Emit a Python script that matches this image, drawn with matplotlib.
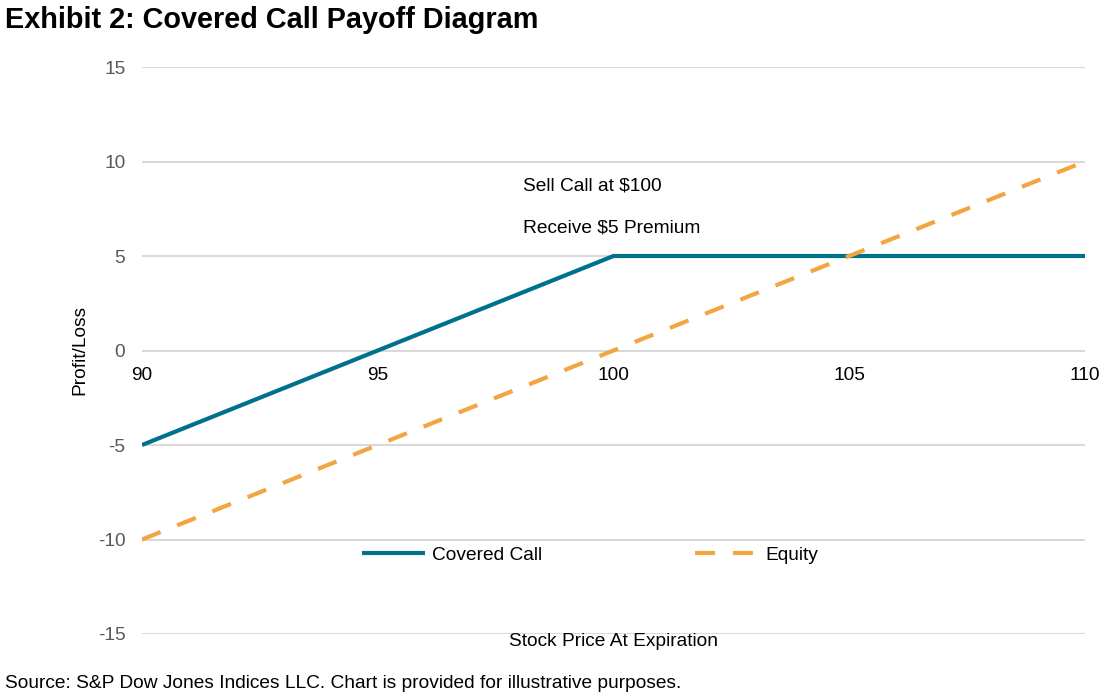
import matplotlib.pyplot as plt

plt.rcParams['font.family'] = ['Liberation Sans', 'DejaVu Sans']
plt.rcParams['axes.unicode_minus'] = False

# stock price at expiration and payoffs
prices = list(range(90, 111))
covered_call = [-5, -4, -3, -2, -1, 0, 1, 2, 3, 4, 5, 5, 5, 5, 5, 5, 5, 5, 5, 5, 5]
equity = [-10, -9, -8, -7, -6, -5, -4, -3, -2, -1, 0, 1, 2, 3, 4, 5, 6, 7, 8, 9, 10]

x_ticks = [90, 95, 100, 105, 110]
y_ticks = [-15, -10, -5, 0, 5, 10, 15]

teal = '#00718B'
orange = '#F2A541'
fs = 13.8

fig = plt.figure(figsize=(11.17, 6.97), dpi=100)
ax = fig.add_axes([142 / 1117, 1 - 634 / 697, 943 / 1117, 567 / 697])

ax.plot(prices, covered_call, color=teal, lw=3, label='Covered Call',
        solid_capstyle='butt')
ax.plot(prices, equity, color=orange, lw=3, label='Equity',
        linestyle=(0, (4.8, 4.3)))

ax.set_xlim(90, 110)
ax.set_ylim(-15, 15)
ax.set_xticks(x_ticks)
ax.set_yticks(y_ticks)
ax.grid(axis='y', color='#D9D9D9', lw=1.5)
ax.set_axisbelow(True)
for s in ax.spines.values():
    s.set_visible(False)
ax.spines['bottom'].set_position(('data', 0))
ax.tick_params(axis='both', length=0, labelsize=fs)
ax.tick_params(axis='x', pad=12, labelcolor='black')
ax.tick_params(axis='y', pad=12, labelcolor='#595959')

ax.text(98.08, 8.73, 'Sell Call at $100', fontsize=fs, va='center')
ax.text(98.08, 6.46, 'Receive $5 Premium', fontsize=fs, va='center')

fig.text(80 / 1117, 1 - 350 / 697, 'Profit/Loss', fontsize=fs,
         rotation=90, ha='center', va='center')
fig.text(613.5 / 1117, 1 - 642 / 697, 'Stock Price At Expiration',
         fontsize=fs, ha='center', va='center')
fig.legend(loc='center', bbox_to_anchor=(590 / 1117, 1 - 555 / 697), ncol=2,
           frameon=False, fontsize=fs, handlelength=3.3, columnspacing=8,
           handletextpad=0.36)

fig.text(5 / 1117, 1 - 20 / 697, 'Exhibit 2: Covered Call Payoff Diagram',
         fontsize=20.8, fontweight='bold', va='center')
fig.text(5 / 1117, 1 - 684 / 697,
         'Source: S&P Dow Jones Indices LLC. Chart is provided for illustrative purposes.',
         fontsize=fs, va='center')

fig.savefig('out.png', dpi=100)
